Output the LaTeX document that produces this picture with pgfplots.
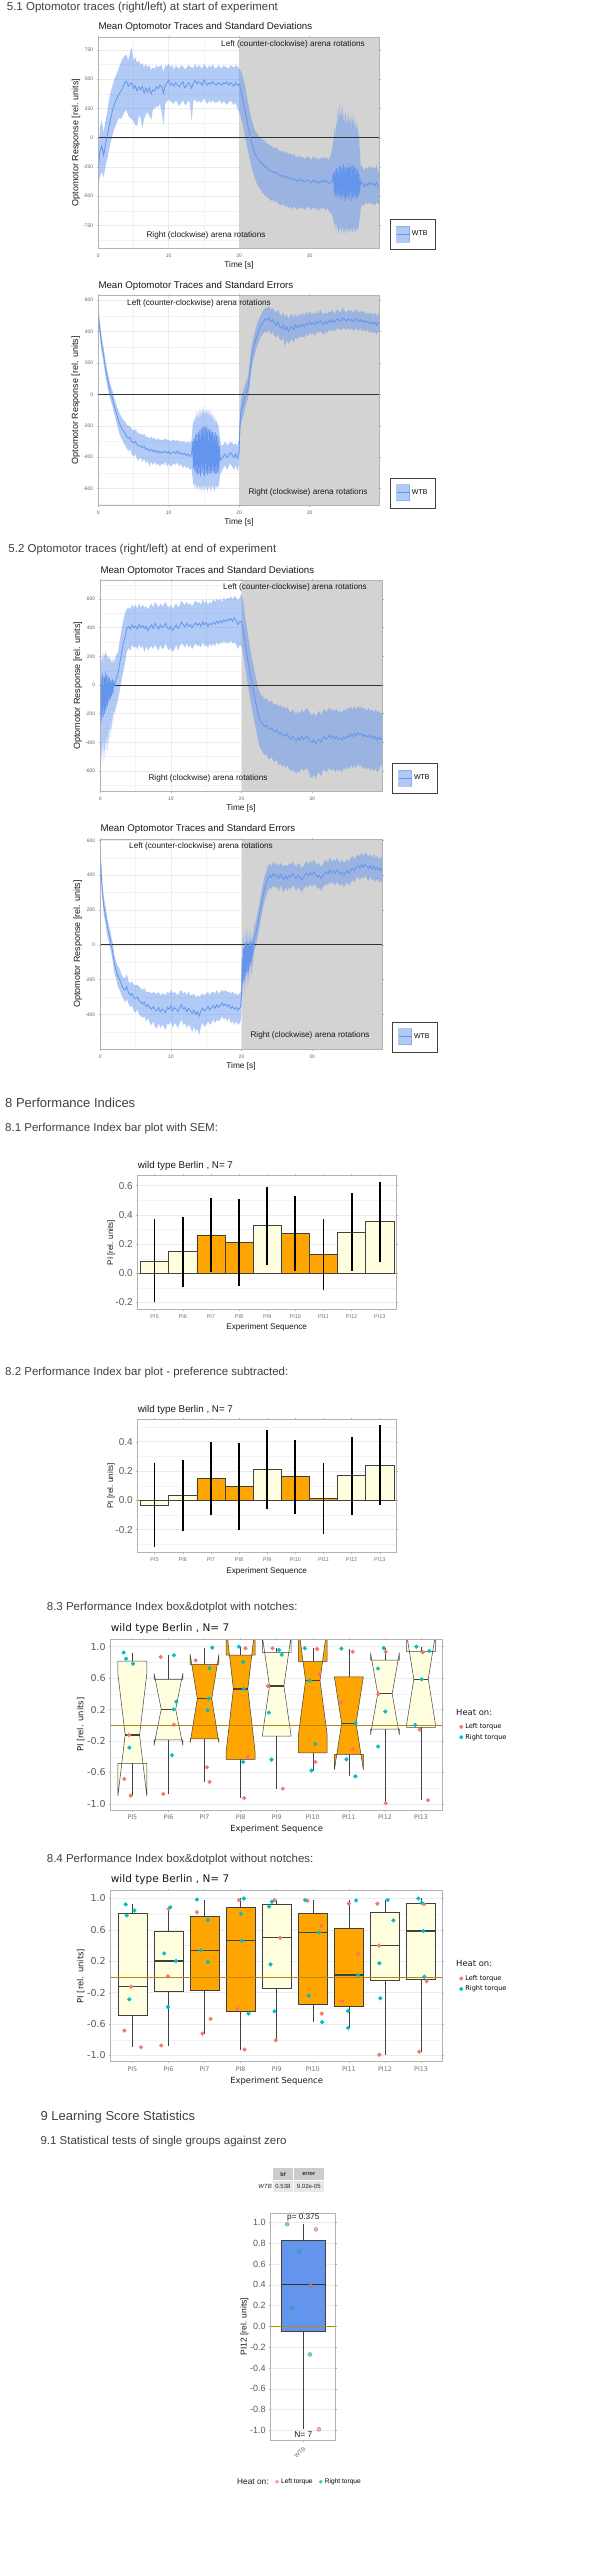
\documentclass[border=0pt]{standalone}
\usepackage{fontspec}
\setmainfont{Liberation Sans}
\newfontfamily\dejavu{DejaVu Sans}
\usepackage{pgfplots}
\usepackage{pgfplotstable}
\pgfplotsset{compat=1.18}
\usepgfplotslibrary{fillbetween}
\newcommand\fs[1]{\fontsize{#1pt}{#1pt}\selectfont}
\definecolor{cblue}{RGB}{100,149,237}
\definecolor{lyel}{RGB}{255,255,224}
\definecolor{orng}{RGB}{255,165,0}
\definecolor{salm}{RGB}{248,118,109}
\definecolor{cyn}{RGB}{0,191,196}
\definecolor{pgray}{RGB}{211,211,211}
\definecolor{fgray}{RGB}{179,179,179}
\definecolor{ggray}{RGB}{235,235,235}
\definecolor{hgray}{RGB}{64,64,64}
\definecolor{gold}{RGB}{184,134,11}

\pgfplotstableread{
t m lo hi
0 -260 -400 -100
0.25 -110 -330 90
0.5 -70 -290 150
0.75 -150 -340 40
1 -60 -250 140
1.25 10 -190 210
1.5 90 -110 320
1.75 160 -40 390
2 230 20 440
2.25 280 70 500
2.5 320 110 530
2.75 350 150 570
3 380 170 610
3.25 400 160 650
3.5 430 190 680
3.75 470 220 700
4 485 240 710
4.25 440 190 660
4.5 460 170 730
4.75 470 160 770
5 420 140 660
5.25 445 110 690
5.5 400 100 640
5.75 435 190 660
6 410 170 620
6.25 440 80 640
6.5 380 160 600
6.75 425 200 630
7 390 220 600
7.25 430 190 620
7.5 375 150 580
7.75 410 240 600
8 400 250 590
8.25 435 270 620
8.5 420 260 600
8.75 450 290 615
9 440 220 620
9.25 380 110 560
9.5 450 290 620
9.75 470 310 610
10 495 330 635
10.25 450 310 600
10.5 465 300 625
10.75 440 290 580
11 470 320 620
11.25 450 300 600
11.5 435 270 590
11.75 460 300 620
12 480 320 610
12.25 430 290 590
12.5 440 280 590
12.75 470 320 620
13 460 300 610
13.25 425 140 600
13.5 470 310 600
13.75 490 330 630
14 460 300 600
14.25 480 320 620
14.5 470 300 610
14.75 450 310 590
15 495 340 630
15.25 470 310 610
15.5 450 290 590
15.75 470 320 620
16 460 300 600
16.25 480 320 630
16.5 460 300 600
16.75 450 300 590
17 470 310 620
17.25 460 320 610
17.5 450 290 590
17.75 470 310 620
18 460 300 610
18.25 480 280 600
18.5 450 300 590
18.75 470 320 620
19 460 300 610
19.25 440 280 600
19.5 470 300 620
19.75 450 250 610
20 460 220 590
20.25 400 180 570
20.5 330 110 530
20.75 260 40 470
21 180 -40 390
21.25 100 -110 310
21.5 30 -180 230
21.75 -40 -250 160
22 -90 -300 110
22.25 -140 -350 60
22.5 -165 -390 40
22.75 -185 -420 20
23 -205 -440 0
23.25 -220 -470 -10
23.5 -235 -480 -20
23.75 -250 -500 -40
24 -260 -510 -50
24.25 -275 -520 -60
24.5 -285 -540 -70
24.75 -290 -530 -80
25 -300 -550 -90
25.25 -295 -540 -80
25.5 -310 -560 -100
25.75 -320 -570 -110
26 -330 -580 -120
26.25 -320 -560 -110
26.5 -340 -590 -130
26.75 -330 -580 -120
27 -350 -600 -140
27.25 -340 -590 -130
27.5 -360 -610 -150
27.75 -350 -590 -140
28 -360 -600 -160
28.25 -375 -620 -170
28.5 -350 -590 -150
28.75 -370 -610 -170
29 -360 -590 -160
29.25 -380 -620 -180
29.5 -370 -600 -170
29.75 -360 -590 -160
30 -370 -600 -170
30.25 -385 -620 -190
30.5 -360 -590 -160
30.75 -380 -610 -180
31 -370 -600 -170
31.25 -390 -630 -190
31.5 -370 -600 -170
31.75 -380 -610 -180
32 -360 -590 -160
32.25 -380 -620 -180
32.5 -370 -600 -170
32.75 -390 -630 -190
33 -380 -640 -150
33.25 -370 -670 -80
33.4 -300 -720 -20
33.5 -480 -760 50
33.6 -280 -700 100
33.7 -500 -780 -10
33.8 -260 -720 150
33.9 -520 -800 80
34.0 -270 -740 250
34.1 -490 -820 120
34.2 -250 -760 300
34.3 -510 -800 200
34.4 -240 -740 180
34.5 -530 -820 260
34.6 -260 -780 150
34.7 -500 -760 280
34.8 -230 -800 120
34.9 -520 -830 220
35.0 -250 -770 100
35.1 -540 -810 240
35.2 -240 -750 160
35.3 -510 -790 90
35.4 -260 -820 200
35.5 -530 -760 130
35.6 -220 -800 230
35.7 -500 -780 100
35.8 -250 -810 180
35.9 -540 -760 60
36.0 -240 -790 200
36.1 -510 -820 120
36.2 -230 -750 210
36.3 -520 -800 80
36.4 -250 -780 150
36.5 -500 -810 60
36.6 -260 -760 180
36.7 -530 -800 40
36.8 -270 -770 120
36.9 -510 -790 0
37.0 -300 -740 60
37.1 -480 -700 -80
37.2 -350 -650 -150
37.25 -400 -600 -230
37.5 -380 -570 -250
37.75 -420 -580 -280
38 -390 -550 -250
38.25 -410 -570 -270
38.5 -380 -550 -240
38.75 -400 -570 -260
39 -390 -560 -250
39.25 -410 -580 -270
39.5 -380 -550 -230
39.75 -420 -570 -290
39.9 -410 -560 -290
}\trA

\pgfplotstableread{
t m lo hi
0 505 460 560
0.25 400 350 450
0.5 310 260 360
0.75 250 200 300
1 170 120 220
1.25 110 60 160
1.5 55 5 105
1.75 10 -40 60
2 -25 -75 25
2.25 -70 -120 -20
2.5 -110 -165 -55
2.75 -150 -210 -90
3 -185 -250 -120
3.25 -210 -280 -140
3.5 -230 -300 -160
3.75 -245 -320 -170
4 -265 -340 -190
4.25 -280 -360 -200
4.5 -275 -350 -200
4.75 -300 -380 -220
5 -310 -400 -230
5.25 -300 -380 -220
5.5 -320 -410 -240
5.75 -330 -420 -250
6 -325 -400 -250
6.25 -340 -430 -260
6.5 -330 -410 -250
6.75 -350 -440 -270
7 -345 -420 -270
7.25 -360 -460 -280
7.5 -350 -430 -270
7.75 -365 -450 -280
8 -355 -430 -280
8.25 -370 -450 -290
8.5 -360 -440 -280
8.75 -375 -460 -290
9 -365 -440 -290
9.25 -370 -450 -290
9.5 -360 -430 -280
9.75 -375 -460 -290
10 -365 -440 -290
10.25 -380 -460 -300
10.5 -370 -450 -290
10.75 -365 -440 -290
11 -375 -450 -300
11.25 -360 -430 -290
11.5 -380 -460 -300
11.75 -370 -440 -300
12 -385 -470 -300
12.25 -375 -450 -300
12.5 -390 -470 -310
12.75 -380 -460 -300
13 -395 -480 -310
13.25 -385 -470 -290
13.4 -300 -540 -200
13.5 -470 -580 -170
13.6 -280 -560 -150
13.7 -490 -600 -190
13.8 -260 -550 -130
13.9 -500 -610 -160
14.0 -250 -580 -100
14.1 -510 -600 -150
14.2 -240 -570 -110
14.3 -500 -620 -170
14.4 -230 -580 -90
14.5 -520 -610 -140
14.6 -220 -570 -80
14.7 -500 -630 -150
14.8 -210 -590 -90
14.9 -510 -600 -130
15.0 -200 -570 -70
15.1 -520 -620 -140
15.2 -210 -580 -100
15.3 -500 -610 -130
15.4 -200 -570 -80
15.5 -510 -630 -140
15.6 -220 -580 -90
15.7 -500 -600 -150
15.8 -230 -570 -100
15.9 -510 -620 -150
16.0 -220 -580 -90
16.1 -500 -610 -160
16.2 -240 -570 -120
16.3 -490 -600 -170
16.4 -250 -590 -130
16.5 -500 -620 -180
16.6 -240 -570 -140
16.7 -510 -610 -190
16.8 -260 -580 -160
16.9 -500 -600 -200
17.0 -270 -570 -180
17.1 -490 -590 -220
17.2 -330 -550 -250
17.3 -420 -510 -290
17.5 -410 -490 -330
17.75 -395 -470 -320
18 -380 -450 -300
18.25 -400 -480 -320
18.5 -390 -460 -320
18.75 -370 -440 -300
19 -385 -460 -310
19.25 -400 -480 -320
19.5 -380 -450 -310
19.75 -405 -490 -330
20 -360 -440 -280
20.1 -200 -280 -130
20.25 -110 -190 -40
20.5 -70 -150 10
20.75 -30 -110 50
21 10 -60 80
21.25 40 -30 110
21.5 130 60 200
21.75 230 160 300
22 290 220 360
22.25 330 260 400
22.5 370 300 440
22.75 400 330 470
23 430 360 500
23.25 450 380 520
23.5 465 390 540
23.75 480 400 550
24 470 390 550
24.25 490 410 560
24.5 460 380 540
24.75 475 400 550
25 450 370 530
25.25 440 360 520
25.5 460 380 540
25.75 430 350 510
26 420 340 500
26.25 440 360 520
26.5 410 300 490
26.75 430 350 510
27 400 320 480
27.25 420 340 500
27.5 430 350 510
27.75 410 330 490
28 440 360 510
28.25 420 350 490
28.5 440 370 510
28.75 430 360 500
29 445 370 520
29.25 430 360 500
29.5 450 380 520
29.75 440 370 510
30 460 390 530
30.25 445 380 510
30.5 455 390 520
30.75 440 370 510
31 465 400 530
31.25 450 390 510
31.5 470 400 540
31.75 455 390 520
32 445 380 510
32.25 460 400 520
32.5 450 390 510
32.75 470 410 530
33 460 400 520
33.25 475 410 540
33.5 455 400 510
33.75 470 410 530
34 480 420 540
34.25 465 410 520
34.5 470 410 530
34.75 485 420 550
35 475 420 530
35.25 465 410 520
35.5 480 420 540
35.75 470 410 530
36 475 420 530
36.25 460 400 520
36.5 480 420 540
36.75 470 410 530
37 465 410 520
37.25 475 420 530
37.5 460 400 520
37.75 470 410 530
38 455 400 510
38.25 465 410 520
38.5 450 390 510
38.75 460 400 520
39 445 390 500
39.25 460 400 520
39.5 440 380 500
39.75 455 400 510
39.9 450 390 505
}\trB

\pgfplotstableread{
t m lo hi
0 -280 -560 50
0.1 50 -400 200
0.2 -250 -540 150
0.3 80 -380 220
0.4 -220 -560 160
0.5 60 -350 230
0.6 -200 -520 190
0.7 90 -330 240
0.8 -180 -500 200
0.9 70 -320 220
1.0 -150 -480 180
1.1 60 -300 210
1.2 -120 -420 170
1.3 50 -260 200
1.4 -100 -380 160
1.5 30 -220 190
1.6 -80 -330 150
1.7 40 -200 180
1.8 -60 -280 140
1.9 20 -170 190
2.0 0 -200 160
2.25 40 -150 210
2.5 80 -100 230
2.75 150 -40 310
3 220 30 380
3.25 290 90 450
3.5 330 150 500
3.75 390 230 530
4 410 260 540
4.25 390 240 530
4.5 420 280 560
4.75 400 260 540
5 410 270 560
5.25 390 250 530
5.5 420 280 570
5.75 400 260 540
6 415 270 560
6.25 395 230 540
6.5 410 270 550
6.75 380 240 530
7 400 260 550
7.25 420 270 570
7.5 395 250 540
7.75 430 280 580
8 410 260 560
8.25 390 240 540
8.5 420 280 570
8.75 400 250 550
9 410 260 560
9.25 430 290 580
9.5 400 260 550
9.75 390 240 540
10 410 260 560
10.25 380 230 530
10.5 400 250 550
10.75 420 280 570
11 395 240 540
11.25 410 270 560
11.5 440 290 590
11.75 420 280 570
12 405 260 560
12.25 430 290 580
12.5 410 260 560
12.75 420 280 570
13 400 250 550
13.25 420 270 570
13.5 435 290 590
13.75 415 270 570
14 430 280 580
14.25 410 260 560
14.5 440 300 600
14.75 420 270 570
15 435 280 590
15.25 410 260 560
15.5 430 290 580
15.75 420 270 570
16 440 290 600
16.25 425 270 580
16.5 445 300 600
16.75 430 280 590
17 450 300 600
17.25 435 290 580
17.5 455 310 610
17.75 440 290 590
18 460 300 610
18.25 450 290 600
18.5 465 310 620
18.75 445 290 600
19 470 300 620
19.25 450 280 610
19.5 420 250 590
19.75 445 280 610
20 440 270 640
20.25 380 220 580
20.5 300 130 480
20.75 220 50 400
21 140 -30 320
21.25 70 -100 250
21.5 10 -170 180
21.75 -60 -240 120
22 -120 -300 60
22.25 -180 -360 0
22.5 -230 -420 -40
22.75 -260 -450 -70
23 -270 -470 -80
23.25 -290 -490 -100
23.5 -280 -480 -90
23.75 -300 -510 -110
24 -310 -520 -120
24.25 -300 -500 -110
24.5 -320 -530 -130
24.75 -330 -540 -140
25 -310 -520 -130
25.25 -340 -560 -150
25.5 -330 -550 -140
25.75 -350 -570 -160
26 -345 -560 -150
26.25 -360 -580 -170
26.5 -340 -560 -150
26.75 -370 -590 -180
27 -380 -600 -190
27.25 -360 -590 -170
27.5 -375 -600 -190
27.75 -390 -620 -200
28 -370 -600 -180
28.25 -385 -610 -200
28.5 -360 -580 -170
28.75 -380 -600 -190
29 -370 -590 -180
29.25 -355 -580 -160
29.5 -375 -600 -180
29.75 -395 -640 -200
30 -400 -650 -210
30.25 -380 -620 -190
30.5 -410 -660 -220
30.75 -390 -620 -200
31 -380 -610 -180
31.25 -400 -640 -210
31.5 -370 -600 -180
31.75 -360 -590 -170
32 -380 -610 -190
32.25 -365 -590 -170
32.5 -350 -580 -160
32.75 -370 -600 -180
33 -355 -580 -170
33.25 -375 -610 -180
33.5 -360 -590 -170
33.75 -380 -600 -190
34 -370 -590 -180
34.25 -385 -610 -190
34.5 -360 -580 -170
34.75 -375 -590 -180
35 -350 -570 -160
35.25 -365 -590 -170
35.5 -340 -560 -150
35.75 -360 -580 -170
36 -335 -560 -150
36.25 -355 -580 -170
36.5 -330 -550 -150
36.75 -350 -570 -160
37 -340 -560 -150
37.25 -360 -590 -170
37.5 -345 -570 -160
37.75 -365 -590 -180
38 -350 -570 -160
38.25 -370 -600 -180
38.5 -355 -580 -170
38.75 -375 -600 -190
39 -360 -580 -170
39.25 -385 -610 -190
39.5 -365 -590 -180
39.75 -380 -560 -200
39.9 -370 -550 -190
}\trC

\pgfplotstableread{
t m lo hi
0 510 460 560
0.25 330 280 380
0.5 220 170 270
0.75 170 120 220
1 100 50 150
1.25 60 10 110
1.5 10 -40 60
1.75 -40 -90 10
2 -110 -160 -60
2.25 -150 -200 -100
2.5 -180 -240 -120
2.75 -200 -260 -140
3 -230 -290 -170
3.25 -250 -310 -190
3.5 -260 -330 -190
3.75 -240 -310 -170
4 -275 -340 -210
4.25 -290 -360 -220
4.5 -280 -350 -210
4.75 -305 -380 -230
5 -310 -390 -230
5.25 -300 -370 -230
5.5 -320 -400 -240
5.75 -330 -410 -250
6 -340 -420 -260
6.25 -330 -410 -250
6.5 -355 -440 -270
6.75 -345 -420 -270
7 -360 -450 -270
7.25 -370 -460 -280
7.5 -355 -440 -270
7.75 -375 -470 -280
8 -380 -480 -280
8.25 -360 -450 -270
8.5 -385 -480 -290
8.75 -370 -460 -280
9 -375 -470 -280
9.25 -390 -490 -290
9.5 -360 -450 -270
9.75 -370 -460 -280
10 -350 -440 -260
10.25 -380 -480 -280
10.5 -360 -450 -270
10.75 -370 -460 -280
11 -385 -480 -290
11.25 -360 -450 -270
11.5 -345 -430 -260
11.75 -370 -460 -280
12 -360 -450 -270
12.25 -385 -480 -290
12.5 -365 -460 -270
12.75 -380 -470 -290
13 -395 -500 -290
13.25 -375 -470 -280
13.5 -400 -500 -300
13.75 -385 -480 -290
14 -410 -520 -300
14.25 -380 -470 -290
14.5 -365 -450 -280
14.75 -380 -470 -290
15 -370 -460 -280
15.25 -355 -440 -270
15.5 -375 -460 -290
15.75 -360 -450 -270
16 -350 -430 -270
16.25 -365 -450 -280
16.5 -345 -430 -260
16.75 -360 -440 -280
17 -350 -430 -270
17.25 -335 -410 -260
17.5 -350 -430 -270
17.75 -340 -420 -260
18 -355 -440 -270
18.25 -345 -420 -270
18.5 -365 -450 -280
18.75 -355 -440 -270
19 -370 -460 -280
19.25 -360 -440 -280
19.5 -375 -460 -290
19.75 -365 -450 -280
19.9 -350 -430 -270
20.0 -280 -360 -200
20.1 -80 -200 40
20.2 -220 -300 -100
20.3 -20 -150 80
20.4 -200 -280 -60
20.5 10 -120 90
20.6 -180 -260 -40
20.7 20 -100 100
20.8 -160 -240 -30
20.9 0 -110 90
21.0 -150 -230 -30
21.1 20 -90 90
21.2 -120 -210 -10
21.3 10 -80 80
21.4 -100 -190 -10
21.5 20 -60 80
21.6 -60 -150 20
21.75 30 -40 100
22 60 -10 130
22.25 110 40 180
22.5 160 90 230
22.75 220 150 290
23 270 200 340
23.25 320 250 390
23.5 350 280 420
23.75 380 310 450
24 400 330 470
24.25 385 320 450
24.5 410 340 480
24.75 395 330 460
25 400 330 470
25.25 380 310 450
25.5 405 340 470
25.75 390 320 460
26 375 300 450
26.25 395 330 460
26.5 380 310 450
26.75 400 330 470
27 390 320 460
27.25 410 340 480
27.5 395 330 460
27.75 380 310 450
28 400 330 470
28.25 390 320 460
28.5 370 300 440
28.75 385 320 450
29 400 330 470
29.25 410 340 480
29.5 395 330 460
29.75 415 350 480
30 400 330 470
30.25 420 350 490
30.5 405 340 470
30.75 390 320 460
31 400 330 470
31.25 380 310 450
31.5 395 330 460
31.75 410 340 480
32 420 350 490
32.25 405 340 470
32.5 430 360 500
32.75 415 350 480
33 425 360 490
33.25 410 340 480
33.5 430 360 500
33.75 415 350 480
34 405 340 470
34.25 420 350 490
34.5 400 330 470
34.75 415 350 480
35 425 360 490
35.25 410 340 480
35.5 430 360 500
35.75 440 370 510
36 425 360 490
36.25 445 380 510
36.5 455 390 520
36.75 440 370 510
37 460 390 530
37.25 445 380 510
37.5 465 400 530
37.75 450 380 520
38 440 370 510
38.25 455 390 520
38.5 435 370 500
38.75 450 380 520
39 430 360 500
39.25 445 380 510
39.5 425 360 490
39.75 440 370 510
39.9 420 350 490
}\trD

\pgfplotsset{
 base/.style={scale only axis, anchor=north west, axis line style={fgray, line width=0.5pt},
   tick style={fgray, line width=0.4pt}, tick align=outside, major tick length=1.5pt, minor tick length=0pt,
   /pgf/number format/assume math mode=true, unbounded coords=jump},
 tr/.style={base, xmin=0, xmax=39.9, xtick={0,10,20,30}, minor xtick={5,15,25,35},
   ticklabel style={font=\fs{5}, text=black!60}, xticklabel style={yshift=-1pt},
   grid=both, major grid style={ggray, line width=0.5pt}, minor grid style={ggray!60, line width=0.3pt},
   legend style={draw=black!75, line width=0.4pt, inner xsep=6pt, inner ysep=6.5pt, font=\fs{7}, anchor=south west},
   legend image code/.code={\fill[cblue, opacity=0.5] (0pt,-8pt) rectangle (13pt,8pt); \draw[cblue, line width=0.8pt] (0pt,0pt) -- (13pt,0pt);}},
 bp/.style={base, width=259pt, xmin=-0.6, xmax=8.6, xtick={0,1,2,3,4,5,6,7,8},
   xticklabels={PI5,PI6,PI7,PI8,PI9,PI10,PI11,PI12,PI13},
   xticklabel style={font=\fs{5.5}, text=black!55},
   yticklabel style={font=\fs{10}, text=black!65, /pgf/number format/fixed, /pgf/number format/fixed zerofill, /pgf/number format/precision=1},
   ymajorgrids, yminorgrids, major grid style={ggray, line width=0.5pt}, minor grid style={ggray!60, line width=0.3pt}},
 bx/.style={base, width=332pt, xmin=-0.6, xmax=8.6, xtick={0,1,2,3,4,5,6,7,8},
   xticklabels={PI5,PI6,PI7,PI8,PI9,PI10,PI11,PI12,PI13},
   xticklabel style={font=\dejavu\fs{6.3}, text=black!55},
   yticklabel style={font=\dejavu\fs{9.5}, text=black!65, /pgf/number format/fixed, /pgf/number format/fixed zerofill, /pgf/number format/precision=1},
   ytick={-1,-0.6,-0.2,0.2,0.6,1}, minor ytick={-0.8,-0.4,0,0.4,0.8},
   ymajorgrids, yminorgrids, major grid style={ggray, line width=0.5pt}, minor grid style={ggray!60, line width=0.3pt},
   legend style={draw=none, fill=none, font=\dejavu\fs{6.6}, anchor=west, inner sep=0pt},
   legend cell align=left,
   legend image code/.code={\fill (3pt,0pt) circle (1.9pt);}},
}

\begin{document}
\begin{tikzpicture}

% ---------- Panel A ----------
\begin{axis}[tr, at={(98.3pt,-37pt)}, width=281pt, height=211pt, ymin=-942, ymax=861,
  ytick={-750,-500,-250,0,250,500,750}, minor ytick={-875,-625,-375,-125,125,375,625},
  legend style={at={(1.038,-0.005)}}]
\addplot[fill=pgray, draw=none, forget plot, on layer=pre main] coordinates {(20,-942) (39.9,-942) (39.9,861) (20,861)} -- cycle;
\addplot[draw=none, name path=ah, forget plot] table[x=t,y=hi]{\trA};
\addplot[draw=none, name path=al, forget plot] table[x=t,y=lo]{\trA};
\addplot[fill=cblue, fill opacity=0.5, draw=none, forget plot] fill between[of=ah and al];
\addplot[black!80, line width=0.7pt, forget plot] coordinates {(0,0) (39.9,0)};
\addplot[cblue, line width=0.8pt] table[x=t,y=m]{\trA};
\addlegendentry{WTB}
\draw[fgray, line width=0.5pt] (rel axis cs:0,0) rectangle (rel axis cs:1,1);
\end{axis}

% ---------- Panel B ----------
\begin{axis}[tr, at={(98.3pt,-295.7pt)}, width=281pt, height=209.3pt, ymin=-704, ymax=627,
  ytick={-600,-400,-200,0,200,400,600}, minor ytick={-700,-500,-300,-100,100,300,500},
  legend style={at={(1.038,-0.014)}}]
\addplot[fill=pgray, draw=none, forget plot, on layer=pre main] coordinates {(20,-704) (39.9,-704) (39.9,627) (20,627)} -- cycle;
\addplot[draw=none, name path=bh, forget plot] table[x=t,y=hi]{\trB};
\addplot[draw=none, name path=bl, forget plot] table[x=t,y=lo]{\trB};
\addplot[fill=cblue, fill opacity=0.5, draw=none, forget plot] fill between[of=bh and bl];
\addplot[black!80, line width=0.7pt, forget plot] coordinates {(0,0) (39.9,0)};
\addplot[cblue, line width=0.8pt] table[x=t,y=m]{\trB};
\addlegendentry{WTB}
\draw[fgray, line width=0.5pt] (rel axis cs:0,0) rectangle (rel axis cs:1,1);
\end{axis}

% ---------- Panel C ----------
\begin{axis}[tr, at={(100.3pt,-580.7pt)}, width=281.7pt, height=210.3pt, ymin=-740, ymax=728,
  ytick={-600,-400,-200,0,200,400,600}, minor ytick={-700,-500,-300,-100,100,300,500,700},
  legend style={at={(1.0355,-0.01)}}]
\addplot[fill=pgray, draw=none, forget plot, on layer=pre main] coordinates {(20,-740) (39.9,-740) (39.9,728) (20,728)} -- cycle;
\addplot[draw=none, name path=ch, forget plot] table[x=t,y=hi]{\trC};
\addplot[draw=none, name path=cl, forget plot] table[x=t,y=lo]{\trC};
\addplot[fill=cblue, fill opacity=0.5, draw=none, forget plot] fill between[of=ch and cl];
\addplot[black!80, line width=0.7pt, forget plot] coordinates {(0,0) (39.9,0)};
\addplot[cblue, line width=0.8pt] table[x=t,y=m]{\trC};
\addlegendentry{WTB}
\draw[fgray, line width=0.5pt] (rel axis cs:0,0) rectangle (rel axis cs:1,1);
\end{axis}

% ---------- Panel D ----------
\begin{axis}[tr, at={(100.3pt,-839.3pt)}, width=281.7pt, height=209.7pt, ymin=-599, ymax=606,
  ytick={-400,-200,0,200,400,600}, minor ytick={-500,-300,-100,100,300,500},
  legend style={at={(1.0355,-0.014)}}]
\addplot[fill=pgray, draw=none, forget plot, on layer=pre main] coordinates {(20,-599) (39.9,-599) (39.9,606) (20,606)} -- cycle;
\addplot[draw=none, name path=dh, forget plot] table[x=t,y=hi]{\trD};
\addplot[draw=none, name path=dl, forget plot] table[x=t,y=lo]{\trD};
\addplot[fill=cblue, fill opacity=0.5, draw=none, forget plot] fill between[of=dh and dl];
\addplot[black!80, line width=0.7pt, forget plot] coordinates {(0,0) (39.9,0)};
\addplot[cblue, line width=0.8pt] table[x=t,y=m]{\trD};
\addlegendentry{WTB}
\draw[fgray, line width=0.5pt] (rel axis cs:0,0) rectangle (rel axis cs:1,1);
\end{axis}

% ---------- Bar 8.1 ----------
\begin{axis}[bp, at={(137.7pt,-1175.7pt)}, height=133.6pt, ymin=-0.247, ymax=0.668,
  ytick={-0.2,0,0.2,0.4,0.6}, minor ytick={-0.1,0.1,0.3,0.5}]
\addplot[gold, line width=0.7pt, forget plot] coordinates {(-0.6,0) (8.6,0)};
\addplot[ybar, bar width=1, bar shift=0pt, fill=lyel, draw=black!75, line width=0.6pt, forget plot]
  coordinates {(0,0.084) (1,0.148) (4,0.326) (7,0.283) (8,0.354)};
\addplot[ybar, bar width=1, bar shift=0pt, fill=orng, draw=black!75, line width=0.6pt, forget plot]
  coordinates {(2,0.262) (3,0.21) (5,0.274) (6,0.128)};
\addplot[black, line width=1.8pt, forget plot] coordinates {(0,-0.2) (0,0.369) (nan,nan) (1,-0.092) (1,0.388) (nan,nan)
  (2,0.011) (2,0.513) (nan,nan) (3,-0.087) (3,0.507) (nan,nan) (4,0.058) (4,0.594) (nan,nan) (5,0.018) (5,0.53) (nan,nan)
  (6,-0.117) (6,0.373) (nan,nan) (7,0.015) (7,0.551) (nan,nan) (8,0.08) (8,0.628)};
\draw[fgray, line width=0.5pt] (rel axis cs:0,0) rectangle (rel axis cs:1,1);
\end{axis}

% ---------- Bar 8.2 ----------
\begin{axis}[bp, at={(137.7pt,-1419.3pt)}, height=133.4pt, ymin=-0.358, ymax=0.553,
  ytick={-0.2,0,0.2,0.4}, minor ytick={-0.3,-0.1,0.1,0.3,0.5}]
\addplot[gold, line width=0.7pt, forget plot] coordinates {(-0.6,0) (8.6,0)};
\addplot[ybar, bar width=1, bar shift=0pt, fill=lyel, draw=black!75, line width=0.6pt, forget plot]
  coordinates {(0,-0.032) (1,0.034) (4,0.211) (7,0.168) (8,0.239)};
\addplot[ybar, bar width=1, bar shift=0pt, fill=orng, draw=black!75, line width=0.6pt, forget plot]
  coordinates {(2,0.148) (3,0.095) (5,0.161) (6,0.014)};
\addplot[black, line width=1.8pt, forget plot] coordinates {(0,-0.318) (0,0.254) (nan,nan) (1,-0.207) (1,0.275) (nan,nan)
  (2,-0.102) (2,0.398) (nan,nan) (3,-0.202) (3,0.392) (nan,nan) (4,-0.059) (4,0.481) (nan,nan) (5,-0.093) (5,0.415) (nan,nan)
  (6,-0.227) (6,0.255) (nan,nan) (7,-0.099) (7,0.435) (nan,nan) (8,-0.033) (8,0.511)};
\draw[fgray, line width=0.5pt] (rel axis cs:0,0) rectangle (rel axis cs:1,1);
\end{axis}

% ---------- Box 8.3 (notched) ----------
\begin{axis}[bx, at={(110.7pt,-1639.3pt)}, height=170.7pt, ymin=-1.077, ymax=1.093,
  legend style={at={(1.049,0.457)}}]
\addplot[fill=lyel, draw=black!75, line width=0.5pt, forget plot] coordinates {(-0.4,0.8155) (-0.4,0.6525) (-0.2,-0.123) (-0.4,-0.8985) (-0.4,-0.483) (0.4,-0.483) (0.4,-0.8985) (0.2,-0.123) (0.4,0.6525) (0.4,0.8155)} -- cycle;
\addplot[fill=lyel, draw=black!75, line width=0.5pt, forget plot] coordinates {(0.6,0.5845) (0.6,0.663) (0.8,0.203) (0.6,-0.257) (0.6,-0.1865) (1.4,-0.1865) (1.4,-0.257) (1.2,0.203) (1.4,0.663) (1.4,0.5845)} -- cycle;
\addplot[fill=orng, draw=black!75, line width=0.5pt, forget plot] coordinates {(1.6,0.7755) (1.6,0.905) (1.8,0.339) (1.6,-0.227) (1.6,-0.172) (2.4,-0.172) (2.4,-0.227) (2.2,0.339) (2.4,0.905) (2.4,0.7755)} -- cycle;
\addplot[fill=orng, draw=black!75, line width=0.5pt, forget plot] coordinates {(2.6,0.892) (2.6,1.254) (2.8,0.462) (2.6,-0.330) (2.6,-0.4345) (3.4,-0.4345) (3.4,-0.330) (3.2,0.462) (3.4,1.254) (3.4,0.892)} -- cycle;
\addplot[fill=lyel, draw=black!75, line width=0.5pt, forget plot] coordinates {(3.6,0.928) (3.6,1.136) (3.8,0.5) (3.6,-0.136) (3.6,-0.1375) (4.4,-0.1375) (4.4,-0.136) (4.2,0.5) (4.4,1.136) (4.4,0.928)} -- cycle;
\addplot[fill=orng, draw=black!75, line width=0.5pt, forget plot] coordinates {(4.6,0.8115) (4.6,1.2625) (4.8,0.568) (4.6,-0.1265) (4.6,-0.3515) (5.4,-0.3515) (5.4,-0.1265) (5.2,0.568) (5.4,1.2625) (5.4,0.8115)} -- cycle;
\addplot[fill=orng, draw=black!75, line width=0.5pt, forget plot] coordinates {(5.6,0.6165) (5.6,0.613) (5.8,0.025) (5.6,-0.563) (5.6,-0.3685) (6.4,-0.3685) (6.4,-0.563) (6.2,0.025) (6.4,0.613) (6.4,0.6165)} -- cycle;
\addplot[fill=lyel, draw=black!75, line width=0.5pt, forget plot] coordinates {(6.6,0.8275) (6.6,0.9226) (6.8,0.4) (6.6,-0.1226) (6.6,-0.0475) (7.4,-0.0475) (7.4,-0.1226) (7.2,0.4) (7.4,0.9226) (7.4,0.8275)} -- cycle;
\addplot[fill=lyel, draw=black!75, line width=0.5pt, forget plot] coordinates {(7.6,0.9365) (7.6,1.1595) (7.8,0.585) (7.6,0.0105) (7.6,-0.0255) (8.4,-0.0255) (8.4,0.0105) (8.2,0.585) (8.4,1.1595) (8.4,0.9365)} -- cycle;
\addplot[black!75, line width=0.5pt, forget plot] coordinates {(0,0.8155) (0,0.924) (nan,nan) (0,-0.483) (0,-0.894) (nan,nan)
 (1,0.5845) (1,0.89) (nan,nan) (1,-0.1865) (1,-0.873) (nan,nan) (2,0.7755) (2,0.987) (nan,nan) (2,-0.172) (2,-0.72) (nan,nan)
 (3,0.892) (3,1.0) (nan,nan) (3,-0.4345) (3,-0.924) (nan,nan) (4,0.928) (4,0.979) (nan,nan) (4,-0.1375) (4,-0.805) (nan,nan)
 (5,0.8115) (5,0.979) (nan,nan) (5,-0.3515) (5,-0.576) (nan,nan) (6,0.6165) (6,0.975) (nan,nan) (6,-0.3685) (6,-0.648) (nan,nan)
 (7,0.8275) (7,0.982) (nan,nan) (7,-0.0475) (7,-0.99) (nan,nan) (8,0.9365) (8,1.0) (nan,nan) (8,-0.0255) (8,-0.953)};
\addplot[black!75, line width=1.3pt, forget plot] coordinates {(-0.2,-0.123) (0.2,-0.123) (nan,nan) (0.8,0.203) (1.2,0.203) (nan,nan)
 (1.8,0.339) (2.2,0.339) (nan,nan) (2.8,0.462) (3.2,0.462) (nan,nan) (3.8,0.5) (4.2,0.5) (nan,nan) (4.8,0.568) (5.2,0.568) (nan,nan)
 (5.8,0.025) (6.2,0.025) (nan,nan) (6.8,0.4) (7.2,0.4) (nan,nan) (7.8,0.585) (8.2,0.585)};
\addplot[gold, line width=0.8pt, forget plot] coordinates {(-0.6,0) (8.6,0)};
\addplot[only marks, mark=*, mark size=1.9pt, color=salm, mark options={draw=none}] coordinates {
 (-0.092,-0.123) (-0.221,-0.682) (-0.046,-0.894) (0.784,0.869) (1.153,0.008) (0.858,-0.873)
 (1.753,0.826) (2.066,-0.534) (2.14,-0.72) (3.137,0.979) (3.2,-0.403) (3.1,-0.924)
 (3.884,0.979) (3.755,0.5) (4.17,-0.805) (5.12,0.97) (5.185,0.653) (5.074,-0.466)
 (6.107,0.936) (5.793,0.297) (6.098,-0.305) (7.02,0.933) (6.817,0.4) (7.02,-0.99)
 (8.044,0.928) (7.961,-0.055) (8.192,-0.953)};
\addplot[only marks, mark=*, mark size=1.9pt, color=cyn, mark options={draw=none}] coordinates {
 (-0.24,0.924) (-0.175,0.847) (0.018,0.784) (-0.083,-0.284) (1.153,0.89) (1.218,0.30) (1.144,0.203) (1.098,-0.381)
 (2.214,0.987) (2.14,0.725) (2.113,0.339) (2.085,0.19) (2.952,1.0) (3.072,0.805) (3.09,0.462) (3.072,-0.466)
 (4.068,0.958) (4.142,0.898) (3.782,0.161) (3.856,-0.436) (4.779,0.979) (4.917,0.568) (5.074,-0.237) (4.963,-0.576)
 (5.793,0.975) (6.19,0.025) (5.932,-0.432) (6.181,-0.648) (6.965,0.982) (6.808,0.722) (7.011,0.175) (6.808,-0.27)
 (7.869,1.0) (8.229,0.945) (8.017,0.585) (7.841,0.004)};
\legend{Left torque, Right torque}
\draw[fgray, line width=0.5pt] (rel axis cs:0,0) rectangle (rel axis cs:1,1);
\end{axis}

% ---------- Box 8.4 ----------
\begin{axis}[bx, at={(110.7pt,-1890.7pt)}, height=171pt, ymin=-1.079, ymax=1.099,
  legend style={at={(1.049,0.456)}}]
\addplot[black!75, line width=0.5pt, forget plot] coordinates {(0,0.8155) (0,0.924) (nan,nan) (0,-0.483) (0,-0.894) (nan,nan)
 (1,0.5845) (1,0.89) (nan,nan) (1,-0.1865) (1,-0.873) (nan,nan) (2,0.7755) (2,0.987) (nan,nan) (2,-0.172) (2,-0.72) (nan,nan)
 (3,0.892) (3,1.0) (nan,nan) (3,-0.4345) (3,-0.924) (nan,nan) (4,0.928) (4,0.979) (nan,nan) (4,-0.1375) (4,-0.805) (nan,nan)
 (5,0.8115) (5,0.979) (nan,nan) (5,-0.3515) (5,-0.576) (nan,nan) (6,0.6165) (6,0.975) (nan,nan) (6,-0.3685) (6,-0.648) (nan,nan)
 (7,0.8275) (7,0.982) (nan,nan) (7,-0.0475) (7,-0.99) (nan,nan) (8,0.9365) (8,1.0) (nan,nan) (8,-0.0255) (8,-0.953)};
\addplot[fill=lyel, draw=black!75, line width=0.5pt, forget plot] coordinates {(-0.4,-0.483) (0.4,-0.483) (0.4,0.8155) (-0.4,0.8155)} -- cycle;
\addplot[fill=lyel, draw=black!75, line width=0.5pt, forget plot] coordinates {(0.6,-0.1865) (1.4,-0.1865) (1.4,0.5845) (0.6,0.5845)} -- cycle;
\addplot[fill=orng, draw=black!75, line width=0.5pt, forget plot] coordinates {(1.6,-0.172) (2.4,-0.172) (2.4,0.7755) (1.6,0.7755)} -- cycle;
\addplot[fill=orng, draw=black!75, line width=0.5pt, forget plot] coordinates {(2.6,-0.4345) (3.4,-0.4345) (3.4,0.892) (2.6,0.892)} -- cycle;
\addplot[fill=lyel, draw=black!75, line width=0.5pt, forget plot] coordinates {(3.6,-0.1375) (4.4,-0.1375) (4.4,0.928) (3.6,0.928)} -- cycle;
\addplot[fill=orng, draw=black!75, line width=0.5pt, forget plot] coordinates {(4.6,-0.3515) (5.4,-0.3515) (5.4,0.8115) (4.6,0.8115)} -- cycle;
\addplot[fill=orng, draw=black!75, line width=0.5pt, forget plot] coordinates {(5.6,-0.3685) (6.4,-0.3685) (6.4,0.6165) (5.6,0.6165)} -- cycle;
\addplot[fill=lyel, draw=black!75, line width=0.5pt, forget plot] coordinates {(6.6,-0.0475) (7.4,-0.0475) (7.4,0.8275) (6.6,0.8275)} -- cycle;
\addplot[fill=lyel, draw=black!75, line width=0.5pt, forget plot] coordinates {(7.6,-0.0255) (8.4,-0.0255) (8.4,0.9365) (7.6,0.9365)} -- cycle;
\addplot[black!75, line width=1.3pt, forget plot] coordinates {(-0.4,-0.123) (0.4,-0.123) (nan,nan) (0.6,0.203) (1.4,0.203) (nan,nan)
 (1.6,0.339) (2.4,0.339) (nan,nan) (2.6,0.462) (3.4,0.462) (nan,nan) (3.6,0.5) (4.4,0.5) (nan,nan) (4.6,0.568) (5.4,0.568) (nan,nan)
 (5.6,0.025) (6.4,0.025) (nan,nan) (6.6,0.4) (7.4,0.4) (nan,nan) (7.6,0.585) (8.4,0.585)};
\addplot[gold, line width=0.8pt, forget plot] coordinates {(-0.6,0) (8.6,0)};
\addplot[only marks, mark=*, mark size=1.9pt, color=salm, mark options={draw=none}] coordinates {
 (-0.037,-0.123) (-0.221,-0.682) (0.24,-0.894) (0.987,0.008) (0.801,-0.873) (1.006,0.869)
 (2.168,-0.534) (1.946,-0.72) (1.79,0.826) (2.915,-0.403) (3.109,-0.924) (2.952,0.979)
 (4.096,0.5) (3.976,-0.805) (3.939,0.979) (5.231,0.653) (5.249,-0.466) (4.852,0.97)
 (6.255,0.297) (5.812,-0.305) (6.0,0.936) (6.836,0.4) (6.845,-0.99) (6.79,0.933)
 (8.155,-0.055) (7.952,-0.953) (8.081,0.928)};
\addplot[only marks, mark=*, mark size=1.9pt, color=cyn, mark options={draw=none}] coordinates {
 (-0.083,-0.284) (-0.185,0.924) (-0.157,0.784) (0.055,0.847) (0.88,0.30) (1.208,0.203) (0.987,-0.381) (1.052,0.89)
 (1.9,0.339) (2.094,0.19) (2.094,0.725) (1.79,0.987) (3.035,0.462) (3.22,-0.466) (3.09,1.0) (3.007,0.805)
 (3.828,0.161) (3.939,-0.436) (3.865,0.958) (3.791,0.898) (5.175,0.568) (4.889,-0.237) (5.258,-0.576) (4.788,0.979)
 (6.255,0.025) (5.978,-0.432) (5.978,-0.648) (6.2,0.975) (6.845,0.175) (6.873,-0.27) (7.233,0.722) (7.076,0.982)
 (8.063,0.585) (8.09,0.004) (7.924,1.0) (8.017,0.945)};
\legend{Left torque, Right torque}
\draw[fgray, line width=0.5pt] (rel axis cs:0,0) rectangle (rel axis cs:1,1);
\end{axis}

% ---------- Section 9 box ----------
\begin{axis}[base, at={(270.7pt,-2213.3pt)}, width=65pt, height=226.7pt, xmin=-0.6, xmax=0.6, ymin=-1.093, ymax=1.087,
  xtick={0}, xticklabels={WTB}, xticklabel style={rotate=45, anchor=north east, font=\fs{6}, text=black!55},
  ytick={-1,-0.8,-0.6,-0.4,-0.2,0,0.2,0.4,0.6,0.8,1},
  yticklabel style={font=\fs{9}, text=black!65, /pgf/number format/fixed, /pgf/number format/fixed zerofill, /pgf/number format/precision=1},
  ymajorgrids, major grid style={ggray, line width=0.5pt},
  legend columns=2, legend cell align=left,
  legend style={draw=none, fill=none, at={(0.0615,-0.184)}, anchor=west, font=\fs{6.6}, inner sep=0pt,
    /tikz/every even column/.append style={column sep=4pt}},
  legend image code/.code={\filldraw[fill opacity=0.7, draw opacity=0.4] (2pt,0pt) circle (1.9pt);}]
\addplot[black!75, line width=0.5pt, forget plot] coordinates {(0,0.8275) (0,0.982) (nan,nan) (0,-0.0475) (0,-0.99)};
\addplot[fill=cblue, draw=black!75, line width=0.5pt, forget plot] coordinates {(-0.4,-0.0475) (0.4,-0.0475) (0.4,0.8275) (-0.4,0.8275)} -- cycle;
\addplot[black!80, line width=0.8pt, forget plot] coordinates {(-0.4,0.40) (0.4,0.40)};
\addplot[gold, line width=0.8pt, forget plot] coordinates {(-0.6,0) (0.6,0)};
\addplot[only marks, mark=*, mark size=2pt, color=salm, mark options={fill=salm, fill opacity=0.6, draw=black!60, draw opacity=0.6, line width=0.4pt}]
  coordinates {(0.234,0.933) (0.137,0.40) (0.29,-0.99)};
\addplot[only marks, mark=*, mark size=2pt, color=cyn, mark options={fill=cyn, fill opacity=0.6, draw=black!60, draw opacity=0.6, line width=0.4pt}]
  coordinates {(-0.295,0.982) (-0.074,0.722) (-0.214,0.175) (0.124,-0.27)};
\legend{Left torque, Right torque}
\draw[fgray, line width=0.5pt] (rel axis cs:0,0) rectangle (rel axis cs:1,1);
\end{axis}

\begin{scope}[x=1pt,y=-1pt]
\path (0,0) rectangle (606,2560);
% section 5
\node[anchor=base west, font=\fs{11.5}, text=hgray, inner sep=0] at (6.7,10) {5.1 Optomotor traces (right/left) at start of experiment};
\node[anchor=base west, font=\fs{9.7}, text=black!90, inner sep=0] at (98.3,29) {Mean Optomotor Traces and Standard Deviations};
\node[rotate=90, font=\fs{9}, text=black!90] at (76,142.5) {Optomotor Response [rel. units]};
\node[font=\fs{8.3}, text=black!90] at (239,265) {Time [s]};
\node[font=\fs{8.2}, text=black!90] at (293,44) {Left (counter-clockwise) arena rotations};
\node[font=\fs{8.2}, text=black!90] at (206,235) {Right (clockwise) arena rotations};

\node[anchor=base west, font=\fs{9.7}, text=black!90, inner sep=0] at (98.3,288.3) {Mean Optomotor Traces and Standard Errors};
\node[rotate=90, font=\fs{9}, text=black!90] at (75.7,400.4) {Optomotor Response [rel. units]};
\node[font=\fs{8.3}, text=black!90] at (239,522) {Time [s]};
\node[font=\fs{8.2}, text=black!90] at (199,303) {Left (counter-clockwise) arena rotations};
\node[font=\fs{8.2}, text=black!90] at (308,492) {Right (clockwise) arena rotations};

\node[anchor=base west, font=\fs{11.5}, text=hgray, inner sep=0] at (8.3,552.7) {5.2 Optomotor traces (right/left) at end of experiment};
\node[anchor=base west, font=\fs{9.7}, text=black!90, inner sep=0] at (100.3,573.3) {Mean Optomotor Traces and Standard Deviations};
\node[rotate=90, font=\fs{9}, text=black!90] at (77.7,685.8) {Optomotor Response [rel. units]};
\node[font=\fs{8.3}, text=black!90] at (241,808) {Time [s]};
\node[font=\fs{8.2}, text=black!90] at (295,587.7) {Left (counter-clockwise) arena rotations};
\node[font=\fs{8.2}, text=black!90] at (208,778) {Right (clockwise) arena rotations};

\node[anchor=base west, font=\fs{9.7}, text=black!90, inner sep=0] at (100.3,831.7) {Mean Optomotor Traces and Standard Errors};
\node[rotate=90, font=\fs{9}, text=black!90] at (77.7,944) {Optomotor Response [rel. units]};
\node[font=\fs{8.3}, text=black!90] at (241,1066) {Time [s]};
\node[font=\fs{8.2}, text=black!90] at (201,846.7) {Left (counter-clockwise) arena rotations};
\node[font=\fs{8.2}, text=black!90] at (310,1035.7) {Right (clockwise) arena rotations};

% section 8
\node[anchor=base west, font=\fs{13}, text=hgray, inner sep=0] at (5,1107.3) {8 Performance Indices};
\node[anchor=base west, font=\fs{11.5}, text=hgray, inner sep=0] at (5,1131.7) {8.1 Performance Index bar plot with SEM:};
\node[anchor=base west, font=\fs{9.8}, text=black!90, inner sep=0] at (137.7,1168.3) {wild type Berlin , N= 7};
\node[rotate=90, font=\fs{8}, text=black!90] at (111,1242.5) {PI [rel. units]};
\node[font=\fs{8.2}, text=black!90] at (266.7,1327.3) {Experiment Sequence};

\node[anchor=base west, font=\fs{11.5}, text=hgray, inner sep=0] at (5,1375.3) {8.2 Performance Index bar plot - preference subtracted:};
\node[anchor=base west, font=\fs{9.8}, text=black!90, inner sep=0] at (137.7,1412.7) {wild type Berlin , N= 7};
\node[rotate=90, font=\fs{8}, text=black!90] at (111,1486) {PI [rel. units]};
\node[font=\fs{8.2}, text=black!90] at (266.7,1571) {Experiment Sequence};

\node[anchor=base west, font=\fs{11.5}, text=hgray, inner sep=0] at (46.7,1610.7) {8.3 Performance Index box\&dotplot with notches:};
\node[anchor=base west, font=\dejavu\fs{10.5}, text=black!90, inner sep=0] at (110.7,1631.7) {wild type Berlin , N= 7};
\node[rotate=90, font=\dejavu\fs{8.4}, text=black!90] at (80.7,1724.7) {PI [rel. units]};
\node[font=\dejavu\fs{8.4}, text=black!90] at (276.7,1829) {Experiment Sequence};
\node[anchor=west, font=\dejavu\fs{8.4}, text=black!90, inner sep=0] at (456,1712.3) {Heat on:};

\node[anchor=base west, font=\fs{11.5}, text=hgray, inner sep=0] at (46.7,1862.3) {8.4 Performance Index box\&dotplot without notches:};
\node[anchor=base west, font=\dejavu\fs{10.5}, text=black!90, inner sep=0] at (110.7,1882.7) {wild type Berlin , N= 7};
\node[rotate=90, font=\dejavu\fs{8.4}, text=black!90] at (80.7,1976.2) {PI [rel. units]};
\node[font=\dejavu\fs{8.4}, text=black!90] at (276.7,2080.7) {Experiment Sequence};
\node[anchor=west, font=\dejavu\fs{8.4}, text=black!90, inner sep=0] at (456,1963.7) {Heat on:};

% section 9
\node[anchor=base west, font=\fs{13}, text=hgray, inner sep=0] at (40.3,2120) {9 Learning Score Statistics};
\node[anchor=base west, font=\fs{11.5}, text=hgray, inner sep=0] at (40.3,2144.3) {9.1 Statistical tests of single groups against zero};
\fill[black!20] (272.7,2168.3) rectangle (293.3,2180);
\fill[black!20] (294,2168.3) rectangle (323.7,2180);
\fill[black!9] (272.7,2181) rectangle (293.3,2191.7);
\fill[black!9] (294,2181) rectangle (323.7,2191.7);
\node[font=\bfseries\fs{5.5}, text=black!85] at (283,2174.2) {bf};
\node[font=\bfseries\fs{5.5}, text=black!85] at (308.8,2174.2) {error};
\node[font=\fs{6}, text=black!85] at (283,2186.3) {0.538};
\node[font=\fs{6}, text=black!85] at (308.8,2186.3) {9.02e-05};
\node[anchor=east, font=\itshape\fs{6}, text=black!85, inner sep=0.5pt] at (272.5,2186.3) {WTB};
\node[font=\fs{8.2}, text=black!90] at (303.3,2217.5) {p= 0.375};
\node[font=\fs{8.4}, text=black!90] at (303.3,2434.7) {N= 7};
\node[rotate=90, font=\fs{8.5}, text=black!90] at (244.3,2326.7) {PI12 [rel. units]};
\node[anchor=west, font=\fs{8.3}, text=black!90, inner sep=0] at (237,2481.7) {Heat on:};
\end{scope}
\end{tikzpicture}
\end{document}
